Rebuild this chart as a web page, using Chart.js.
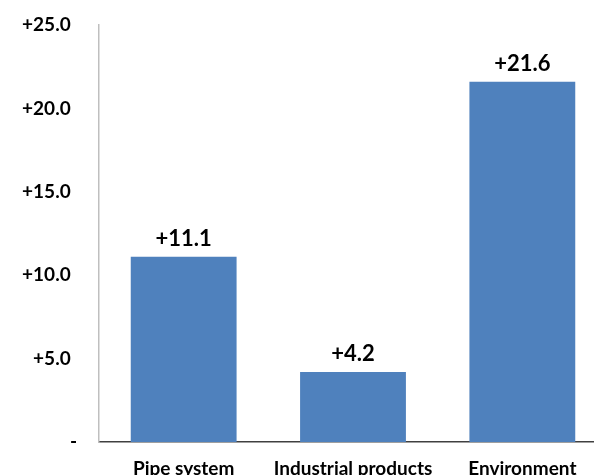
<!DOCTYPE html>
<html>
<head>
<meta charset="utf-8">
<script src="https://cdn.jsdelivr.net/npm/chart.js@4.4.1/dist/chart.umd.min.js"></script>
<style>
  html, body { margin: 0; padding: 0; background: #fff; overflow: hidden; width: 594px; height: 475px; }
  #wrap { position: absolute; left: 0; top: 0; width: 620px; height: 492px; }
</style>
</head>
<body>
<div id="wrap"><canvas id="c" width="620" height="492"></canvas></div>
<script>
const categories = ["Pipe system", "Industrial products", "Environment"];
const values = [11.1, 4.2, 21.6];
const valueLabels = ["+11.1", "+4.2", "+21.6"];
const yMin = 0, yMax = 25, yStep = 5;

const FONT = "Lato, 'Open Sans', sans-serif";

const valueLabelPlugin = {
  id: 'valueLabels',
  afterDatasetsDraw(chart) {
    const ctx = chart.ctx;
    const meta = chart.getDatasetMeta(0);
    ctx.save();
    ctx.font = "bold 22px " + FONT;
    ctx.fillStyle = "#000";
    ctx.textAlign = "center";
    ctx.textBaseline = "alphabetic";
    meta.data.forEach((bar, i) => {
      ctx.fillText(valueLabels[i], bar.x, bar.y - 11);
    });
    ctx.restore();
  }
};

new Chart(document.getElementById('c'), {
  type: 'bar',
  data: {
    labels: categories,
    datasets: [{
      data: values,
      backgroundColor: '#4F81BD',
      borderWidth: 0,
      barPercentage: 0.625,
      categoryPercentage: 1.0
    }]
  },
  options: {
    responsive: false,
    animation: false,
    devicePixelRatio: 1,
    layout: { padding: { left: 0, right: 13, top: 25, bottom: 0 } },
    plugins: { legend: { display: false }, tooltip: { enabled: false } },
    scales: {
      x: {
        grid: { display: false, drawTicks: false },
        border: { display: true, color: '#404040', width: 1.5 },
        ticks: {
          color: '#000',
          font: { family: FONT, size: 19, weight: 'bold' },
          padding: 15,
          maxRotation: 0,
          autoSkip: false
        },
        afterFit(scale) { scale.height = 50; scale.paddingLeft = 0; scale.paddingRight = 0; }
      },
      y: {
        min: yMin,
        max: yMax,
        grid: { display: false, drawTicks: false },
        border: { display: true, color: '#BFBFBF', width: 1.5 },
        ticks: {
          stepSize: yStep,
          color: '#000',
          font: { family: FONT, size: 19, weight: 'bold' },
          padding: 22,
          callback: (v) => v === 0 ? '-' : '+' + Number(v).toFixed(1) + '\u2006\u2006'
        },
        afterFit(scale) { scale.width = 99; scale.paddingTop = 0; scale.paddingBottom = 0; }
      }
    }
  },
  plugins: [valueLabelPlugin]
});
</script>
</body>
</html>
